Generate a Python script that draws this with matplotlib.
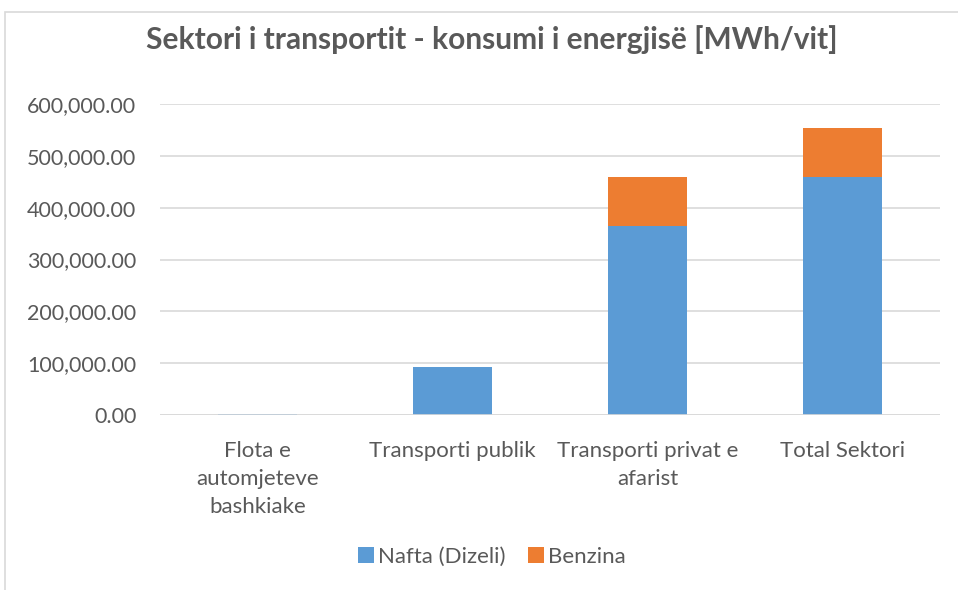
import numpy as np
import matplotlib
matplotlib.use('Agg')
import matplotlib.pyplot as plt
from matplotlib.patches import Rectangle
from matplotlib.ticker import FuncFormatter

# data (MWh/vit)
categories = ['Flota e\nautomjeteve\nbashkiake', 'Transporti publik',
              'Transporti privat e\nafarist', 'Total Sektori']
nafta = [1800, 92800, 364000, 458600]
benzina = [300, 0, 95000, 95300]
series_names = ['Nafta (Dizeli)', 'Benzina']
yticks = [0, 100000, 200000, 300000, 400000, 500000, 600000]

plt.rcParams['font.family'] = ['Lato', 'DejaVu Sans']
text_col = '#595959'

figure = plt.figure(figsize=(9.58, 5.9), dpi=100)
W, H = 958, 590

# chart border (cropped excel chart area)
figure.patches.append(Rectangle((5 / W, -0.1), 1.2, 1 - 12 / H + 0.1,
                                transform=figure.transFigure,
                                fill=False, edgecolor='#D9D9D9', lw=1.2))

ax = figure.add_axes([160 / W, 1 - 415 / H, 780 / W, 311 / H])
x = np.arange(len(categories))
ax.bar(x, nafta, width=0.405, color='#5B9BD5', label=series_names[0], zorder=3)
ax.bar(x, benzina, width=0.405, bottom=nafta, color='#ED7D31',
       label=series_names[1], zorder=3)

ax.set_xlim(-0.5, len(categories) - 0.5)
ax.set_ylim(0, 600000)
ax.set_yticks(yticks)
ax.yaxis.set_major_formatter(FuncFormatter(lambda v, p: '{:,.2f}'.format(v)))
ax.grid(axis='y', color='#D9D9D9', lw=1.2, zorder=0)
for s in ax.spines.values():
    s.set_visible(False)
ax.axhline(0, color='#D9D9D9', lw=1.2, zorder=4)
ax.tick_params(axis='both', length=0, colors=text_col)
ax.tick_params(axis='y', pad=17, labelsize=15.5)
ax.tick_params(axis='x', pad=19, labelsize=16)
ax.set_xticks(x)
ax.set_xticklabels(categories, linespacing=1.5)

figure.text(492 / W, 1 - 40 / H, 'Sektori i transportit - konsumi i energjisë [MWh/vit]',
            ha='center', va='center', fontsize=21.5, fontweight='bold', color=text_col)

figure.legend(loc='center', bbox_to_anchor=(492 / W, 1 - 557 / H), ncol=2,
              frameon=False, fontsize=16, labelcolor=text_col,
              handlelength=0.7, handleheight=0.7, handletextpad=0.2,
              columnspacing=1.0)

figure.savefig('out.png', dpi=100)
